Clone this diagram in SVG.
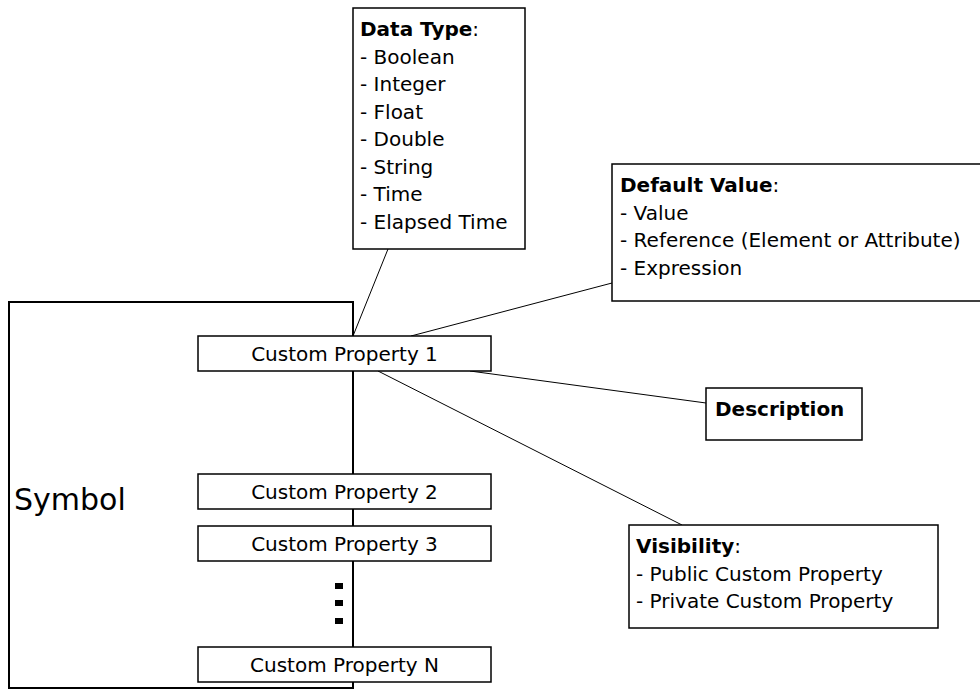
<svg xmlns="http://www.w3.org/2000/svg" width="980" height="698" viewBox="0 0 980 698">
<style>
text{font-family:"DejaVu Sans","Verdana",sans-serif;font-size:20px;fill:#000}
.b{font-weight:bold}
.box{fill:#fff;stroke:#000;stroke-width:1.5}
.sym{fill:#fff;stroke:#000;stroke-width:2}
.cp{fill:#fff;stroke:#000;stroke-width:1.5}
.c{text-anchor:middle}
.conn line{stroke:#000;stroke-width:1}
</style>
<rect width="980" height="698" fill="#fff"/>
<g id="symbol">
<rect class="sym" x="9" y="302" width="344" height="386"/>
<text x="14" y="510" style="font-size:30px">Symbol</text>
</g>
<g class="conn" id="connectors">
<line x1="388" y1="249" x2="353" y2="336"/>
<line x1="612" y1="283" x2="411" y2="336"/>
<line x1="470" y1="371" x2="706" y2="403"/>
<line x1="378" y1="371" x2="682" y2="525"/>
</g>
<g id="cp1">
<rect class="cp" x="198" y="336" width="293" height="35"/>
<text class="c" x="344.5" y="361">Custom Property 1</text>
</g>
<g id="cp2">
<rect class="cp" x="198" y="474" width="293" height="35"/>
<text class="c" x="344.5" y="499">Custom Property 2</text>
</g>
<g id="cp3">
<rect class="cp" x="198" y="526" width="293" height="35"/>
<text class="c" x="344.5" y="551">Custom Property 3</text>
</g>
<g id="dots">
<rect x="335" y="583" width="8" height="6" fill="#000"/>
<rect x="335" y="600" width="8" height="6" fill="#000"/>
<rect x="335" y="618" width="8" height="6" fill="#000"/>
</g>
<g id="cpn">
<rect class="cp" x="198" y="647" width="293" height="35"/>
<text class="c" x="344.5" y="672">Custom Property N</text>
</g>
<g id="datatype">
<rect class="box" x="353" y="8" width="172" height="241"/>
<text x="360" y="36"><tspan class="b">Data Type</tspan>:</text>
<text x="360" y="63.5">- Boolean</text>
<text x="360" y="91">- Integer</text>
<text x="360" y="118.5">- Float</text>
<text x="360" y="146">- Double</text>
<text x="360" y="173.5">- String</text>
<text x="360" y="201">- Time</text>
<text x="360" y="228.5">- Elapsed Time</text>
</g>
<g id="defaultvalue">
<rect class="box" x="612" y="164" width="380" height="137"/>
<text x="620" y="192"><tspan class="b">Default Value</tspan>:</text>
<text x="620" y="219.5">- Value</text>
<text x="620" y="247">- Reference (Element or Attribute)</text>
<text x="620" y="274.5">- Expression</text>
</g>
<g id="description">
<rect class="box" x="706" y="388" width="156" height="52"/>
<text class="b" x="715" y="416">Description</text>
</g>
<g id="visibility">
<rect class="box" x="629" y="525" width="309" height="103"/>
<text x="636" y="553"><tspan class="b">Visibility</tspan>:</text>
<text x="636" y="581">- Public Custom Property</text>
<text x="636" y="608">- Private Custom Property</text>
</g>
</svg>
